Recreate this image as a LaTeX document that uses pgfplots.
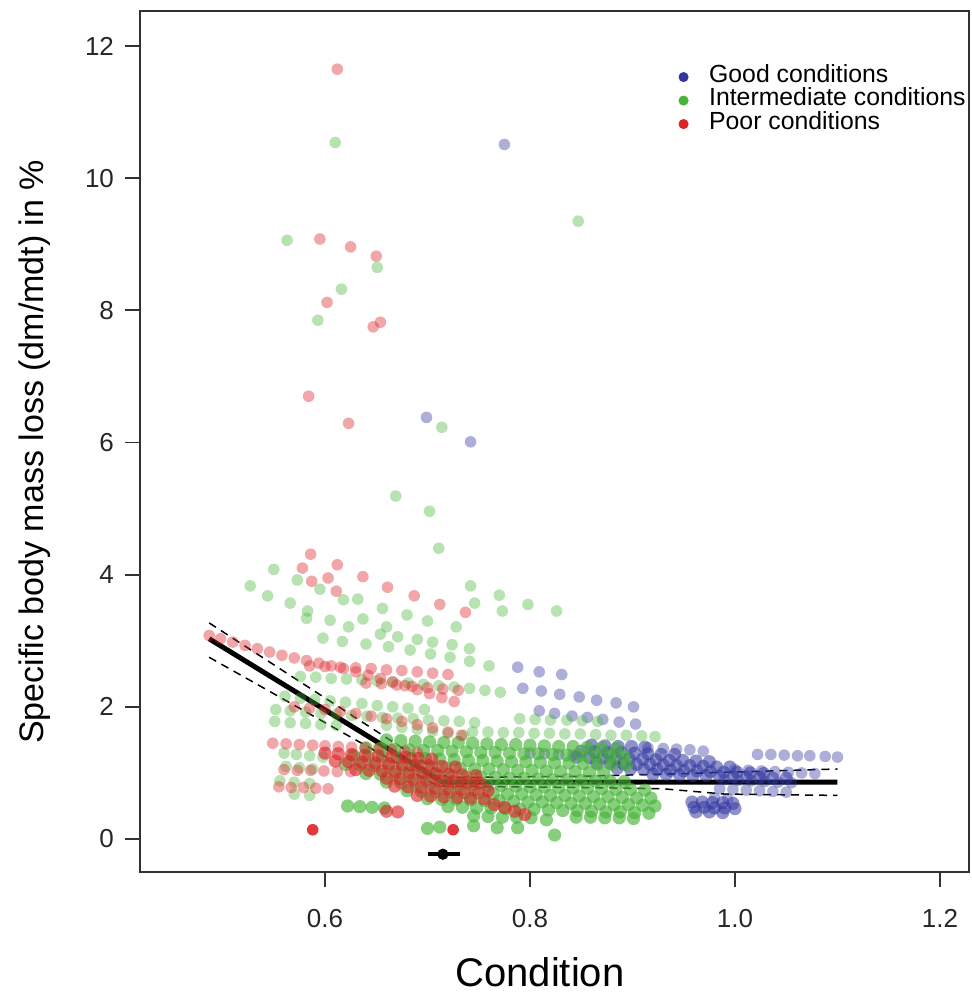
\documentclass[border=0pt]{standalone}
\usepackage{fontspec}
\setmainfont{Liberation Sans}
\usepackage{pgfplots}
\pgfplotsset{compat=1.18}
\definecolor{gblue}{RGB}{50,55,160}
\definecolor{ggreen}{RGB}{70,180,55}
\definecolor{gred}{RGB}{220,35,40}
\definecolor{axgray}{RGB}{50,50,50}
\pgfplotsset{
  pts/.style n args={2}{only marks, mark=*, mark size=2.9pt, forget plot, color=#1,
    mark options={draw=#1, draw opacity=0, fill=#1, fill opacity=#2}},
  dense/.style={mark size=3.3pt},
}
\begin{document}
\begin{tikzpicture}
\begin{axis}[
  at={(0,0)}, anchor=south west,
  scale only axis, width=414.5pt, height=430.5pt,
  xmin=0.4195, xmax=1.2283, ymin=-0.499, ymax=12.53,
  axis line style={axgray, line width=0.9pt},
  tick style={axgray, line width=0.9pt},
  tick align=outside, major tick length=7.5pt,
  xtick={0.6,0.8,1.0,1.2}, xticklabels={0.6,0.8,1.0,1.2},
  ytick={0,2,4,6,8,10,12},
  xtick pos=bottom, ytick pos=left,
  tick label style={font=\fontsize{13}{13}\selectfont, text=black!85},
  xticklabel style={yshift=-7.5pt},
  yticklabel style={xshift=-2pt},
  /pgf/number format/assume math mode=true,
  xlabel={Condition},
  ylabel={Specific body mass loss (dm/mdt) in \%},
  xlabel style={at={(axis description cs:0.4825,-0.1161)}, anchor=center, font=\fontsize{20}{20}\selectfont},
  ylabel style={at={(axis description cs:-0.1267,0.488)}, anchor=center, font=\fontsize{17}{17}\selectfont},
  legend cell align=left,
  legend style={at={(axis description cs:0.6424,0.942)}, anchor=north west, draw=none, fill=none,
    font=\fontsize{12.4}{12.4}\selectfont, row sep=0pt,
    /tikz/every odd column/.append style={column sep=9.5pt},
    nodes={inner sep=1pt, text height=7.5pt, text depth=2.25pt}},
  clip=false,
]
% ---------- blue (good) ----------
\addplot[pts={gblue}{0.4}] coordinates {
(0.775,10.51)(0.699,6.38)(0.742,6.01)
(0.788,2.60)(0.809,2.53)(0.831,2.49)
(0.793,2.28)(0.811,2.24)(0.829,2.19)(0.848,2.15)(0.865,2.10)(0.884,2.06)(0.901,2.00)
(0.809,1.94)(0.824,1.90)(0.841,1.86)(0.856,1.84)(0.871,1.81)(0.887,1.77)(0.903,1.74)
(0.915,1.38)(0.930,1.37)(0.943,1.36)(0.956,1.35)(0.969,1.33)
(1.022,1.28)(1.035,1.28)(1.048,1.27)(1.061,1.26)(1.073,1.26)(1.088,1.25)(1.100,1.24)
(1.000,1.05)(1.013,1.04)(1.026,1.03)(1.039,1.02)(1.052,1.01)(1.065,1.00)(1.078,0.99)
(0.990,0.90)(1.003,0.89)(1.016,0.88)(1.029,0.87)(1.042,0.86)(1.055,0.85)
(0.985,0.76)(0.998,0.75)(1.011,0.74)(1.024,0.73)(1.037,0.72)(1.050,0.71)
(0.980,0.62)(0.993,0.61)
(0.800,1.30)(0.814,1.29)(0.828,1.28)(0.842,1.27)
};
\addplot[pts={gblue}{0.55}, dense] coordinates {
(0.860,1.42)(0.873,1.41)(0.886,1.40)(0.899,1.40)(0.912,1.39)
(0.850,1.33)(0.863,1.32)(0.876,1.31)(0.889,1.31)(0.902,1.30)(0.915,1.29)(0.928,1.28)(0.941,1.28)
(0.845,1.24)(0.858,1.23)(0.871,1.23)(0.884,1.22)(0.897,1.21)(0.910,1.21)(0.923,1.20)(0.936,1.19)(0.949,1.19)(0.962,1.18)(0.975,1.17)
(0.865,1.15)(0.878,1.15)(0.891,1.14)(0.904,1.13)(0.917,1.13)(0.930,1.12)(0.943,1.11)(0.956,1.11)(0.969,1.10)(0.982,1.09)(0.995,1.09)
(0.885,1.07)(0.898,1.06)(0.911,1.05)(0.924,1.05)(0.937,1.04)(0.950,1.03)(0.963,1.03)(0.976,1.02)(0.989,1.01)(1.002,1.01)(1.015,1.00)(1.028,0.99)
(0.920,0.98)(0.933,0.98)(0.946,0.97)(0.959,0.96)(0.972,0.96)(0.985,0.95)(0.998,0.94)(1.011,0.94)(1.024,0.93)(1.037,0.92)(1.050,0.92)
(0.958,0.56)(0.968,0.56)(0.978,0.55)(0.988,0.55)(0.998,0.54)
(0.960,0.48)(0.970,0.48)(0.980,0.47)(0.990,0.47)(1.000,0.46)
(0.962,0.41)(0.975,0.41)(0.988,0.40)
};
% ---------- green (intermediate) ----------
\addplot[pts={ggreen}{0.38}] coordinates {
(0.610,10.54)(0.847,9.35)(0.563,9.06)(0.651,8.65)(0.616,8.32)(0.593,7.85)(0.714,6.23)(0.669,5.19)(0.702,4.96)(0.711,4.40)
(0.550,4.08)(0.527,3.83)(0.573,3.92)(0.742,3.83)(0.544,3.68)(0.595,3.78)(0.618,3.62)(0.632,3.63)(0.770,3.69)(0.566,3.57)
(0.656,3.49)(0.746,3.57)(0.798,3.55)(0.773,3.45)(0.826,3.45)(0.583,3.45)(0.582,3.34)(0.605,3.31)(0.637,3.33)(0.680,3.39)
(0.700,3.30)(0.623,3.21)(0.660,3.21)(0.728,3.21)
(0.654,3.10)(0.671,3.06)(0.690,3.02)(0.705,2.98)(0.724,2.94)(0.741,2.88)
(0.598,3.04)(0.617,2.99)(0.640,2.95)(0.662,2.91)(0.683,2.86)(0.703,2.80)(0.722,2.75)(0.741,2.69)(0.760,2.62)
(0.576,2.46)(0.591,2.45)(0.606,2.43)(0.621,2.42)(0.636,2.41)(0.651,2.39)(0.666,2.37)(0.681,2.36)(0.696,2.34)(0.711,2.32)(0.726,2.30)(0.741,2.28)(0.756,2.25)(0.771,2.22)
(0.561,2.16)(0.576,2.13)(0.590,2.11)(0.605,2.09)(0.620,2.07)(0.636,2.05)(0.651,2.02)(0.666,2.00)(0.681,1.98)(0.697,1.96)
(0.552,1.96)(0.566,1.94)(0.581,1.92)(0.596,1.90)(0.611,1.89)(0.626,1.87)(0.641,1.86)(0.656,1.84)(0.671,1.83)(0.686,1.82)(0.701,1.80)(0.716,1.79)(0.731,1.78)(0.746,1.76)
(0.790,1.82)(0.805,1.81)(0.820,1.80)(0.836,1.80)(0.851,1.79)(0.866,1.78)
(0.551,1.78)(0.566,1.76)(0.581,1.75)(0.596,1.73)(0.611,1.72)
(0.660,1.72)(0.675,1.69)(0.690,1.66)(0.705,1.63)(0.720,1.60)(0.735,1.57)
(0.744,1.62)(0.759,1.62)(0.774,1.61)(0.789,1.61)(0.804,1.60)(0.819,1.60)(0.834,1.59)(0.849,1.59)(0.864,1.58)(0.879,1.57)(0.894,1.57)(0.909,1.56)(0.922,1.55)
(0.560,1.30)(0.572,1.28)(0.585,1.26)(0.598,1.24)
(0.562,1.10)(0.575,1.08)(0.588,1.06)
(0.556,0.88)(0.570,0.86)(0.585,0.84)
(0.570,0.68)(0.585,0.66)
};
\addplot[pts={ggreen}{0.65}, dense] coordinates {
(0.660,1.50)(0.674,1.49)(0.688,1.48)(0.702,1.47)(0.716,1.46)(0.730,1.46)(0.744,1.45)(0.758,1.44)(0.772,1.43)(0.786,1.43)(0.800,1.42)(0.814,1.41)(0.828,1.40)(0.842,1.40)(0.856,1.39)(0.870,1.38)(0.884,1.37)
(0.640,1.38)(0.654,1.37)(0.668,1.36)(0.682,1.35)(0.696,1.34)(0.710,1.34)(0.724,1.33)(0.738,1.32)(0.752,1.31)(0.766,1.31)(0.780,1.30)(0.794,1.29)(0.808,1.29)(0.822,1.28)(0.836,1.27)(0.850,1.27)(0.864,1.26)(0.878,1.25)(0.892,1.25)
(0.628,1.26)(0.642,1.25)(0.656,1.24)(0.670,1.23)(0.684,1.22)(0.698,1.22)(0.712,1.21)(0.726,1.20)(0.740,1.19)(0.754,1.19)(0.768,1.18)(0.782,1.17)(0.796,1.17)(0.810,1.16)(0.824,1.15)(0.838,1.15)(0.852,1.14)(0.866,1.13)(0.880,1.13)(0.894,1.12)
(0.620,1.13)(0.634,1.12)(0.648,1.11)(0.662,1.11)(0.676,1.10)(0.690,1.09)(0.704,1.08)(0.718,1.08)(0.732,1.07)(0.746,1.06)(0.760,1.06)(0.774,1.05)(0.788,1.04)(0.802,1.04)(0.816,1.03)(0.830,1.02)(0.844,1.02)(0.858,1.01)(0.872,1.00)
(0.640,0.99)(0.654,0.98)(0.668,0.98)(0.682,0.97)(0.696,0.96)(0.710,0.96)(0.724,0.95)(0.738,0.94)(0.752,0.94)(0.766,0.93)(0.780,0.92)(0.794,0.92)(0.808,0.91)(0.822,0.90)(0.836,0.90)(0.850,0.89)(0.864,0.88)(0.878,0.88)(0.892,0.87)
(0.660,0.86)(0.674,0.85)(0.688,0.85)(0.702,0.84)(0.716,0.83)(0.730,0.83)(0.744,0.82)(0.758,0.81)(0.772,0.81)(0.786,0.80)(0.800,0.79)(0.814,0.79)(0.828,0.78)(0.842,0.77)(0.856,0.77)(0.870,0.76)(0.884,0.75)(0.898,0.75)(0.912,0.74)
(0.680,0.73)(0.694,0.72)(0.708,0.72)(0.722,0.71)(0.736,0.70)(0.750,0.70)(0.764,0.69)(0.778,0.68)(0.792,0.68)(0.806,0.67)(0.820,0.66)(0.834,0.66)(0.848,0.65)(0.862,0.64)(0.876,0.64)(0.890,0.63)(0.904,0.62)(0.918,0.62)
(0.700,0.61)(0.714,0.60)(0.728,0.60)(0.742,0.59)(0.756,0.58)(0.770,0.58)(0.784,0.57)(0.798,0.56)(0.812,0.56)(0.826,0.55)(0.840,0.54)(0.854,0.54)(0.868,0.53)(0.882,0.52)(0.896,0.52)(0.910,0.51)(0.922,0.50)
(0.720,0.49)(0.734,0.48)(0.748,0.47)(0.762,0.47)(0.776,0.46)(0.790,0.45)(0.804,0.45)(0.818,0.44)(0.832,0.43)(0.846,0.43)(0.860,0.42)(0.874,0.41)(0.888,0.41)(0.902,0.40)(0.916,0.39)
(0.745,0.35)(0.759,0.34)(0.773,0.33)(0.787,0.33)(0.801,0.32)(0.845,0.33)(0.859,0.33)(0.873,0.32)(0.887,0.32)(0.901,0.31)
(0.622,0.50)(0.634,0.49)(0.646,0.48)(0.658,0.47)
(0.700,0.16)(0.712,0.18)(0.745,0.20)(0.768,0.17)(0.788,0.17)(0.816,0.29)(0.824,0.06)
};
% ---------- red (poor) ----------
\addplot[pts={gred}{0.4}] coordinates {
(0.612,11.65)(0.595,9.08)(0.625,8.96)(0.650,8.82)(0.602,8.12)(0.654,7.82)(0.647,7.75)(0.584,6.70)(0.623,6.29)
(0.586,4.31)(0.578,4.10)(0.612,4.15)(0.587,3.90)(0.603,3.95)(0.637,3.97)(0.661,3.81)(0.611,3.75)(0.687,3.68)(0.712,3.55)(0.737,3.43)
(0.487,3.08)(0.498,3.03)(0.510,2.98)(0.522,2.93)(0.534,2.88)(0.546,2.83)(0.558,2.78)(0.570,2.74)(0.582,2.70)(0.594,2.66)(0.606,2.62)
(0.618,2.58)(0.630,2.53)(0.642,2.48)(0.654,2.43)(0.666,2.38)(0.678,2.32)(0.690,2.26)(0.702,2.20)(0.714,2.14)(0.726,2.08)
(0.585,2.62)(0.600,2.61)(0.615,2.60)(0.630,2.59)(0.645,2.58)(0.660,2.56)(0.675,2.55)(0.690,2.53)(0.705,2.51)(0.720,2.49)
(0.640,2.36)(0.655,2.35)(0.670,2.33)(0.685,2.31)(0.700,2.29)(0.715,2.27)(0.730,2.25)
(0.570,2.00)(0.585,1.98)(0.600,1.96)(0.615,1.93)(0.630,1.90)(0.645,1.86)(0.660,1.82)(0.675,1.78)(0.690,1.73)(0.705,1.68)(0.720,1.62)(0.733,1.57)
(0.549,1.45)(0.562,1.44)(0.575,1.43)(0.588,1.42)(0.600,1.41)(0.613,1.40)(0.626,1.39)(0.639,1.38)(0.652,1.37)(0.665,1.35)(0.678,1.33)(0.690,1.31)
(0.560,1.05)(0.573,1.04)(0.586,1.04)(0.599,1.03)(0.612,1.02)(0.625,1.02)
(0.555,0.79)(0.567,0.78)(0.579,0.78)(0.591,0.77)(0.603,0.76)
};
\addplot[pts={gred}{0.62}, dense] coordinates {
(0.600,1.30)(0.613,1.29)(0.626,1.28)(0.639,1.27)(0.652,1.26)(0.665,1.25)(0.678,1.24)(0.691,1.22)(0.704,1.21)
(0.610,1.18)(0.623,1.17)(0.636,1.16)(0.649,1.15)(0.662,1.14)(0.675,1.13)(0.688,1.12)(0.701,1.11)(0.714,1.10)(0.727,1.09)
(0.630,1.05)(0.643,1.04)(0.656,1.03)(0.669,1.02)(0.682,1.01)(0.695,1.00)(0.708,0.99)(0.721,0.98)(0.734,0.97)(0.747,0.96)
(0.660,0.92)(0.673,0.91)(0.686,0.90)(0.699,0.89)(0.712,0.88)(0.725,0.87)(0.738,0.86)(0.751,0.85)
(0.668,0.80)(0.681,0.79)(0.694,0.78)(0.707,0.77)(0.720,0.76)(0.733,0.75)(0.746,0.74)(0.759,0.73)
(0.690,0.66)(0.703,0.65)(0.716,0.64)(0.729,0.63)(0.742,0.62)(0.755,0.61)
(0.765,0.52)(0.775,0.48)(0.785,0.42)(0.795,0.37)(0.660,0.42)(0.671,0.41)
};
\addplot[pts={gred}{0.9}] coordinates {(0.588,0.14)(0.725,0.14)};
% ---------- fitted broken-stick line ----------
\addplot[black, line width=2.5pt, forget plot] coordinates {(0.487,3.03)(0.715,0.86)(1.100,0.86)};
\addplot[black, line width=0.75pt, dash pattern=on 4pt off 3pt, forget plot] coordinates {(0.487,3.27)(0.720,0.93)(0.850,0.95)(0.950,0.99)(1.100,1.06)};
\addplot[black, line width=0.75pt, dash pattern=on 4pt off 3pt, forget plot] coordinates {(0.487,2.75)(0.710,0.80)(0.850,0.78)(0.930,0.76)(0.990,0.68)(1.100,0.66)};
% breakpoint estimate with its interval
\addplot[black, line width=2pt, forget plot] coordinates {(0.700,-0.23)(0.732,-0.23)};
\addplot[only marks, mark=*, mark size=2.6pt, black, forget plot] coordinates {(0.715,-0.23)};
% ---------- legend ----------
\addlegendimage{only marks, mark=*, mark size=2.3pt, color=gblue, mark options={draw=gblue, fill=gblue}}
\addlegendentry{Good conditions}
\addlegendimage{only marks, mark=*, mark size=2.3pt, color=ggreen, mark options={draw=ggreen, fill=ggreen}}
\addlegendentry{Intermediate conditions}
\addlegendimage{only marks, mark=*, mark size=2.3pt, color=gred, mark options={draw=gred, fill=gred}}
\addlegendentry{Poor conditions}
\end{axis}
\pgfresetboundingbox
\path (-70pt,-61pt) rectangle (415.5pt,436pt);
\end{tikzpicture}
\end{document}
